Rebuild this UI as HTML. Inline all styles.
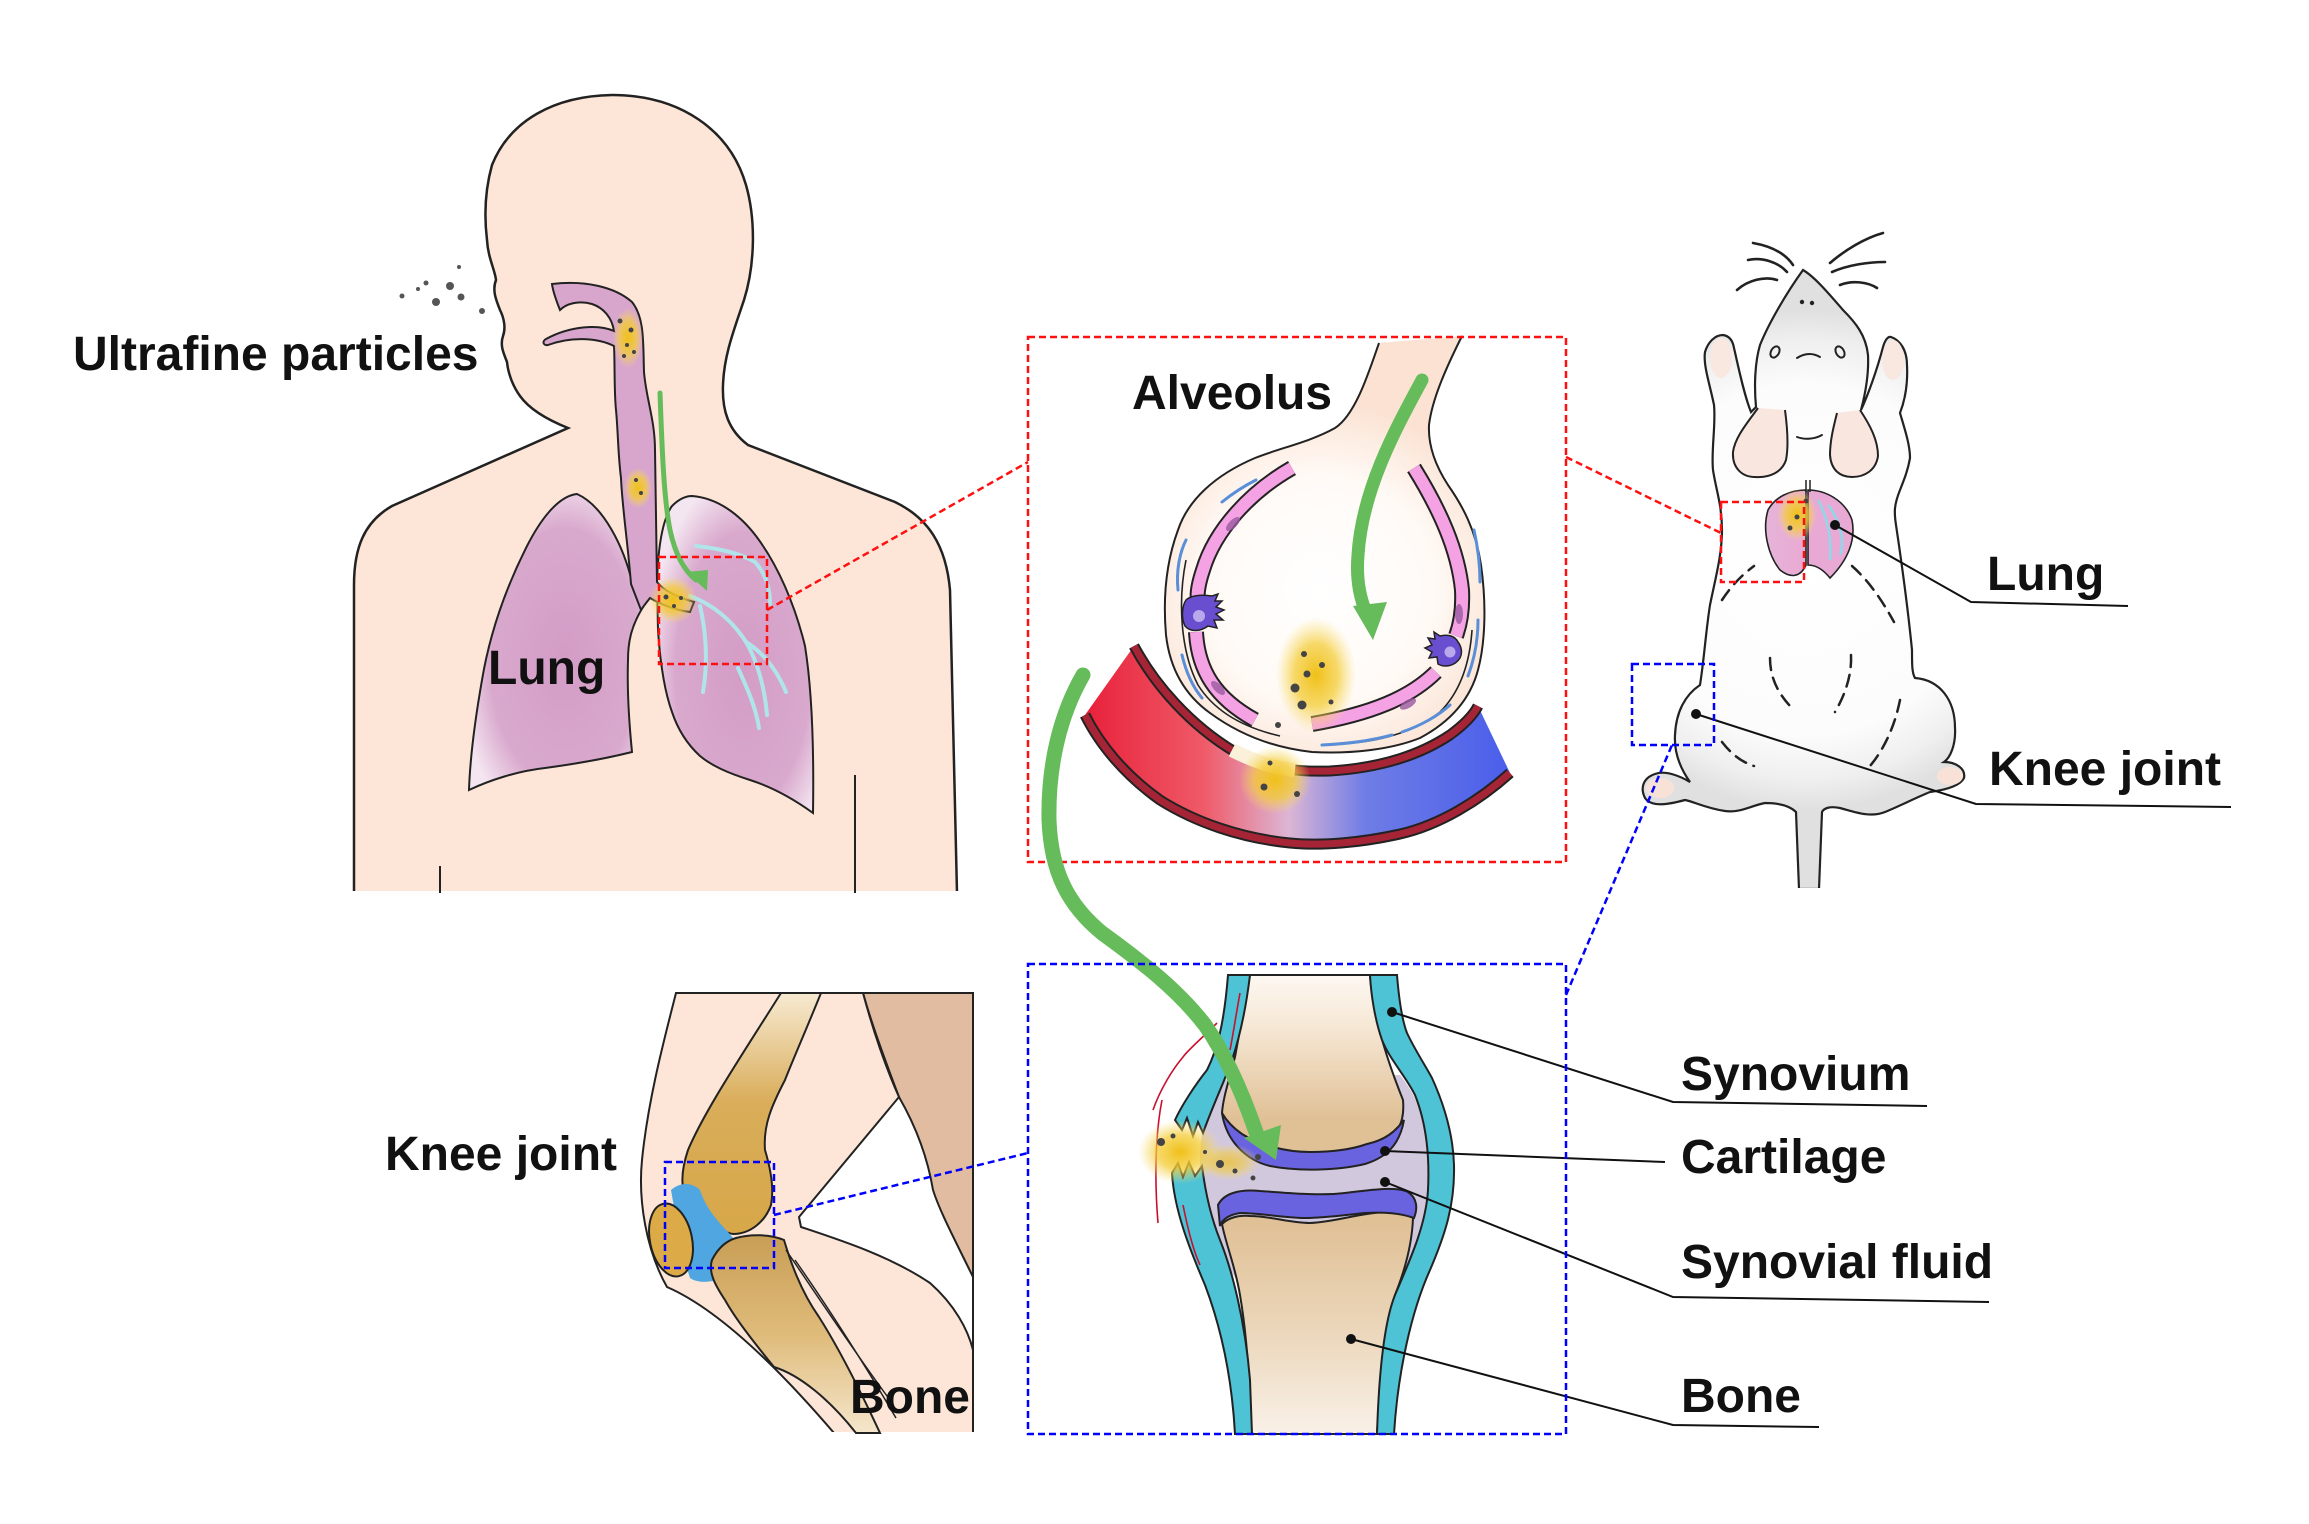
<!DOCTYPE html>
<html><head><meta charset="utf-8">
<style>
html,body{margin:0;padding:0;background:#fff;}
svg{display:block;}
text{font-family:"Liberation Sans",Arial,sans-serif;font-weight:bold;font-size:48px;fill:#111;}
</style></head><body>
<svg width="2309" height="1524" viewBox="0 0 2309 1524" xmlns="http://www.w3.org/2000/svg">
<defs>
 <radialGradient id="lungG" cx="0.55" cy="0.55" r="0.62">
  <stop offset="0" stop-color="#d39cc6"/>
  <stop offset="0.7" stop-color="#d9a9cd"/>
  <stop offset="1" stop-color="#f4e6f1"/>
 </radialGradient>
 <radialGradient id="yel">
  <stop offset="0" stop-color="#f0c018" stop-opacity="1"/>
  <stop offset="0.55" stop-color="#f4cd3a" stop-opacity="0.75"/>
  <stop offset="1" stop-color="#f8dc6a" stop-opacity="0"/>
 </radialGradient>
 <radialGradient id="alvG" cx="1320" cy="590" r="190" gradientUnits="userSpaceOnUse">
  <stop offset="0" stop-color="#ffffff"/>
  <stop offset="0.6" stop-color="#fffaf6"/>
  <stop offset="1" stop-color="#fbe2d2"/>
 </radialGradient>
 <linearGradient id="vesG" x1="1085" y1="0" x2="1509" y2="0" gradientUnits="userSpaceOnUse">
  <stop offset="0" stop-color="#e8213a"/>
  <stop offset="0.28" stop-color="#ef5a68"/>
  <stop offset="0.48" stop-color="#dcb6d4"/>
  <stop offset="0.66" stop-color="#6f7de6"/>
  <stop offset="1" stop-color="#4a5eea"/>
 </linearGradient>
 <linearGradient id="femG" x1="0" y1="974" x2="0" y2="1120" gradientUnits="userSpaceOnUse">
  <stop offset="0" stop-color="#fdf8f2"/>
  <stop offset="0.35" stop-color="#f6e8d6"/>
  <stop offset="1" stop-color="#e0c095"/>
 </linearGradient>
 <linearGradient id="tibG" x1="0" y1="1220" x2="0" y2="1434" gradientUnits="userSpaceOnUse">
  <stop offset="0" stop-color="#e0c095"/>
  <stop offset="0.55" stop-color="#ecd8bd"/>
  <stop offset="1" stop-color="#f9f1e8"/>
 </linearGradient>
 <linearGradient id="femKG" x1="0" y1="993" x2="0" y2="1235" gradientUnits="userSpaceOnUse">
  <stop offset="0" stop-color="#f7ead2"/>
  <stop offset="0.45" stop-color="#d9ad5a"/>
  <stop offset="1" stop-color="#d7a748"/>
 </linearGradient>
 <linearGradient id="tibKG" x1="0" y1="1235" x2="0" y2="1433" gradientUnits="userSpaceOnUse">
  <stop offset="0" stop-color="#c99e55"/>
  <stop offset="0.5" stop-color="#dfbb7a"/>
  <stop offset="1" stop-color="#f5e6cc"/>
 </linearGradient>
 <radialGradient id="ratG" cx="1805" cy="560" r="250" gradientUnits="userSpaceOnUse">
  <stop offset="0" stop-color="#ffffff"/>
  <stop offset="0.7" stop-color="#fcfcfc"/>
  <stop offset="0.88" stop-color="#efefef"/>
  <stop offset="1" stop-color="#e0e0e0"/>
 </radialGradient>
 <linearGradient id="ratLungG" x1="0" y1="0" x2="1" y2="0">
  <stop offset="0" stop-color="#e6b4d8"/>
  <stop offset="1" stop-color="#e9a9d4"/>
 </linearGradient>
</defs>

<!-- ============ HUMAN ============ -->
<path d="M354 893 L354 585 C354 548 364 522 392 506 L568 428 C548 420 530 410 520 396 C512 385 508 372 507 362 C503 352 500 345 503 336 C506 328 504 318 500 310 C496 300 492 290 496 280 C495 270 488 258 487 240 C484 215 485 190 492 165 C510 120 555 96 612 95 C680 95 730 130 746 185 C756 220 755 265 744 300 C734 330 724 355 723 385 C722 410 728 430 748 445 L895 502 C928 518 946 545 950 590 L957 893 Z" fill="#fde6d7" stroke="#222" stroke-width="2.5"/>
<rect x="340" y="891" width="630" height="14" fill="#fff"/>
<path d="M440 866 L440 893" stroke="#222" stroke-width="2"/>
<path d="M855 775 L855 893" stroke="#222" stroke-width="2"/>

<!-- lungs -->
<path d="M577 494 C558 496 540 520 526 548 C506 588 490 632 482 680 C475 720 470 760 469 790 C490 780 518 771 545 768 C575 764 608 758 632 752 C629 722 627 690 628 660 C628 640 632 625 643 607 L632 582 C624 548 604 506 577 494 Z" fill="url(#lungG)" stroke="#222" stroke-width="2"/>
<path d="M692 496 C718 498 740 515 756 536 C778 565 795 605 805 646 C812 690 814 750 813 813 C795 800 775 788 750 780 C728 773 712 766 700 756 C688 745 678 730 672 712 C664 690 660 660 658 630 L657 582 C658 550 662 520 672 506 C678 500 685 496 692 496 Z" fill="url(#lungG)" stroke="#222" stroke-width="2"/>
<!-- trachea -->
<path d="M552 284 C585 280 615 287 632 302 C645 318 643 345 644 372 C646 398 655 420 655 450 L657 582 C665 592 680 598 694 602 L690 612 C675 610 660 604 650 598 C646 603 643 607 641 610 L631 584 C628 545 622 505 621 478 C618 455 618 430 616 410 C614 390 615 365 614 346 C598 338 572 336 548 345 C543 346 542 341 546 339 C570 326 598 324 614 331 C612 318 604 308 592 304 C578 300 566 304 560 310 C556 300 553 292 552 284 Z" fill="#d8a6cc" stroke="#222" stroke-width="2"/>
<!-- bronchial tree -->
<g stroke="#aee8ec" stroke-width="4" fill="none" stroke-linecap="round" opacity="0.95">
 <path d="M690 596 C712 604 732 620 746 642 C758 662 765 690 767 715"/>
 <path d="M700 606 C706 632 708 662 703 692"/>
 <path d="M746 642 C762 652 776 668 786 692"/>
 <path d="M696 546 C716 548 740 553 755 562 C766 574 770 588 770 604"/>
 <path d="M738 668 C748 690 756 708 759 728"/>
</g>
<!-- particles in airway -->
<ellipse cx="628" cy="338" rx="15" ry="30" fill="url(#yel)"/>
<ellipse cx="638" cy="488" rx="14" ry="20" fill="url(#yel)"/>
<circle cx="673" cy="600" r="24" fill="url(#yel)"/>
<g fill="#444">
 <circle cx="620" cy="321" r="2.5"/><circle cx="631" cy="330" r="2.5"/><circle cx="627" cy="345" r="2"/><circle cx="624" cy="356" r="2"/><circle cx="634" cy="352" r="2"/>
 <circle cx="636" cy="480" r="2"/><circle cx="641" cy="493" r="2"/>
 <circle cx="666" cy="597" r="2.5"/><circle cx="674" cy="606" r="2"/><circle cx="681" cy="598" r="2"/>
</g>
<!-- inhaled particles -->
<g fill="#555">
 <circle cx="402" cy="296" r="2.5"/><circle cx="418" cy="289" r="2"/><circle cx="426" cy="283" r="2.5"/><circle cx="450" cy="286" r="4"/><circle cx="459" cy="267" r="2"/><circle cx="461" cy="297" r="3.5"/><circle cx="436" cy="302" r="4"/><circle cx="482" cy="311" r="3"/>
</g>
<!-- green arrow -->
<path d="M660 393 C662 450 664 500 670 530 C676 558 686 572 696 580" stroke="#66bb5a" stroke-width="5" fill="none" stroke-linecap="round"/>
<polygon points="686,572 708,570 707,591" fill="#66bb5a"/>
<rect x="659" y="557" width="108" height="107" fill="none" stroke="#ff1010" stroke-width="2.5" stroke-dasharray="7 4"/>
<text x="73" y="370">Ultrafine particles</text>
<text x="488" y="684">Lung</text>

<!-- ============ ALVEOLUS ============ -->
<path d="M1379 343 C1368 375 1355 415 1335 428 C1310 442 1280 448 1255 458 C1215 475 1188 500 1178 530 C1165 565 1163 600 1166 635 C1170 670 1185 695 1210 713 C1240 735 1275 748 1312 752 C1350 754 1390 750 1420 738 C1450 722 1470 700 1478 670 C1486 640 1486 600 1481 565 C1476 530 1462 505 1448 485 C1435 465 1428 445 1429 425 C1432 400 1445 370 1462 336 Z" fill="url(#alvG)" stroke="none"/>
<path d="M1379 343 C1368 375 1355 415 1335 428 C1310 442 1280 448 1255 458 C1215 475 1188 500 1178 530 C1165 565 1163 600 1166 635 C1170 670 1185 695 1210 713 C1240 735 1275 748 1312 752 C1350 754 1390 750 1420 738 C1450 722 1470 700 1478 670 C1486 640 1486 600 1481 565 C1476 530 1462 505 1448 485 C1435 465 1428 445 1429 425 C1432 400 1445 370 1462 336" fill="none" stroke="#222" stroke-width="2"/>
<path d="M1186 560 C1178 600 1180 650 1198 685 C1215 712 1245 728 1280 736" fill="none" stroke="#222" stroke-width="1.6"/>
<path d="M1330 744 C1370 744 1410 735 1440 712 C1462 690 1470 660 1472 630" fill="none" stroke="#222" stroke-width="1.6"/>
<g stroke="#5a8fd8" stroke-width="3" fill="none" stroke-linecap="round">
 <path d="M1222 502 C1232 494 1244 486 1256 480"/>
 <path d="M1178 590 C1176 570 1180 552 1186 540"/>
 <path d="M1182 655 C1186 672 1192 686 1202 698"/>
 <path d="M1474 530 C1478 548 1480 566 1480 582"/>
 <path d="M1478 620 C1478 640 1474 660 1468 676"/>
 <path d="M1450 705 C1438 716 1420 726 1402 732"/>
 <path d="M1322 745 C1345 744 1370 741 1392 735"/>
</g>
<g fill="none" stroke-linecap="butt">
 <path d="M1292 468 C1250 492 1215 530 1203 570 C1198 585 1197 595 1198 600" stroke="#222" stroke-width="16"/>
 <path d="M1292 468 C1250 492 1215 530 1203 570 C1198 585 1197 595 1198 600" stroke="#f5a2e4" stroke-width="12"/>
 <path d="M1196 632 C1198 670 1215 698 1255 720" stroke="#222" stroke-width="16"/>
 <path d="M1196 632 C1198 670 1215 698 1255 720" stroke="#f5a2e4" stroke-width="12"/>
 <path d="M1414 468 C1440 510 1458 550 1462 590 C1463 610 1460 625 1456 636" stroke="#222" stroke-width="16"/>
 <path d="M1414 468 C1440 510 1458 550 1462 590 C1463 610 1460 625 1456 636" stroke="#f5a2e4" stroke-width="12"/>
 <path d="M1436 672 C1410 698 1370 714 1312 724" stroke="#222" stroke-width="16"/>
 <path d="M1436 672 C1410 698 1370 714 1312 724" stroke="#f5a2e4" stroke-width="12"/>
</g>
<g fill="#9a5aa0" opacity="0.8">
 <ellipse cx="1233" cy="524" rx="4" ry="9" transform="rotate(45 1233 524)"/>
 <ellipse cx="1459" cy="614" rx="4" ry="10"/>
 <ellipse cx="1218" cy="688" rx="4" ry="9" transform="rotate(-45 1218 688)"/>
 <ellipse cx="1408" cy="704" rx="4" ry="9" transform="rotate(60 1408 704)"/>
</g>
<path d="M1186 600 C1190 596 1200 594 1212 596 L1218 594 L1215 601 L1222 601 L1216 607 L1224 610 L1216 614 L1223 620 L1214 620 L1217 628 L1208 626 C1200 632 1190 632 1185 626 C1181 618 1182 606 1186 600 Z" fill="#6a4ed0" stroke="#222" stroke-width="1.5"/>
<circle cx="1199" cy="616" r="6" fill="#b9a8ec"/>
<path d="M1458 642 C1455 636 1448 634 1440 636 L1434 632 L1435 639 L1428 638 L1432 645 L1425 648 L1432 652 L1429 658 L1437 657 L1438 664 C1445 668 1455 666 1460 658 C1463 652 1461 646 1458 642 Z" fill="#6a4ed0" stroke="#222" stroke-width="1.5"/>
<circle cx="1450" cy="652" r="5.5" fill="#b9a8ec"/>
<!-- vessel -->
<path d="M1134 646 C1155 685 1190 725 1235 752 C1270 770 1300 772 1330 771 C1380 768 1420 755 1450 735 C1465 724 1474 714 1478 706 L1510 773 C1480 800 1440 825 1400 834 C1360 843 1320 846 1290 843 C1240 838 1195 822 1160 800 C1125 775 1100 745 1085 715 Z" fill="url(#vesG)"/>
<path d="M1134 646 C1155 685 1190 725 1235 752 C1270 770 1300 772 1330 771 C1380 768 1420 755 1450 735 C1465 724 1474 714 1478 706" fill="none" stroke="#222" stroke-width="11"/>
<path d="M1134 646 C1155 685 1190 725 1235 752 C1270 770 1300 772 1330 771 C1380 768 1420 755 1450 735 C1465 724 1474 714 1478 706" fill="none" stroke="#a52537" stroke-width="7"/>
<path d="M1510 773 C1480 800 1440 825 1400 834 C1360 843 1320 846 1290 843 C1240 838 1195 822 1160 800 C1125 775 1100 745 1085 715" fill="none" stroke="#222" stroke-width="11"/>
<path d="M1510 773 C1480 800 1440 825 1400 834 C1360 843 1320 846 1290 843 C1240 838 1195 822 1160 800 C1125 775 1100 745 1085 715" fill="none" stroke="#a52537" stroke-width="7"/>
<path d="M1232 750 C1255 762 1275 768 1295 770" fill="none" stroke="#fbf0d8" stroke-width="14"/>
<ellipse cx="1316" cy="675" rx="40" ry="58" fill="url(#yel)"/>
<ellipse cx="1275" cy="780" rx="36" ry="34" fill="url(#yel)"/>
<g fill="#444">
 <circle cx="1304" cy="654" r="3"/><circle cx="1322" cy="665" r="3"/><circle cx="1307" cy="674" r="3.5"/><circle cx="1295" cy="688" r="4.5"/><circle cx="1302" cy="705" r="4.5"/><circle cx="1331" cy="702" r="2.5"/><circle cx="1278" cy="725" r="3"/><circle cx="1270" cy="763" r="2.5"/><circle cx="1264" cy="787" r="3.5"/><circle cx="1297" cy="794" r="3"/>
</g>
<path d="M1422 380 C1395 430 1362 490 1358 555 C1356 580 1360 598 1366 612" stroke="#66bb5a" stroke-width="13" fill="none" stroke-linecap="round"/>
<polygon points="1353,606 1387,602 1373,640" fill="#66bb5a"/>
<rect x="1028" y="337" width="538" height="525" fill="none" stroke="#ff1010" stroke-width="2.5" stroke-dasharray="7 4"/>
<text x="1132" y="409">Alveolus</text>

<!-- ============ BIG KNEE ============ -->
<path d="M1215 1080 C1200 1120 1195 1170 1205 1220 C1215 1250 1230 1270 1245 1292 L1400 1292 C1415 1260 1428 1220 1430 1180 C1430 1130 1420 1100 1400 1075 Z" fill="#d2c8dd"/>
<path d="M1250 975 C1245 1000 1240 1030 1235 1057 C1229 1080 1223 1098 1222 1113 C1230 1135 1245 1150 1268 1155 C1290 1158 1310 1157 1325 1156 C1350 1154 1375 1148 1393 1135 C1403 1125 1404 1112 1403 1100 C1395 1080 1388 1060 1383 1043 C1377 1020 1371 995 1370 975 Z" fill="url(#femG)" stroke="#222" stroke-width="2"/>
<path d="M1222 1113 C1226 1140 1245 1160 1270 1166 C1300 1172 1340 1170 1365 1164 C1388 1157 1400 1143 1404 1120 C1395 1132 1385 1140 1367 1144 C1350 1150 1330 1152 1310 1152 C1285 1152 1260 1145 1242 1134 C1232 1127 1226 1120 1222 1113 Z" fill="#6a63e0" stroke="#222" stroke-width="2"/>
<path d="M1222 1224 C1228 1218 1238 1215 1250 1216 C1270 1216 1290 1223 1310 1223 C1335 1222 1360 1213 1385 1212 C1400 1212 1410 1214 1413 1218 C1412 1245 1405 1270 1395 1295 C1385 1330 1380 1380 1377 1434 L1251 1434 C1250 1380 1246 1330 1240 1295 C1235 1265 1226 1245 1222 1224 Z" fill="url(#tibG)" stroke="#222" stroke-width="2"/>
<path d="M1218 1205 C1224 1193 1240 1189 1260 1191 C1290 1193 1320 1196 1345 1193 C1370 1190 1395 1186 1408 1192 C1417 1198 1418 1208 1414 1218 C1400 1213 1385 1212 1365 1213 C1345 1215 1325 1218 1305 1218 C1285 1218 1260 1213 1240 1213 C1228 1215 1222 1220 1220 1226 Z" fill="#6a63e0" stroke="#222" stroke-width="2"/>
<!-- synovium -->
<path d="M1228 975 L1250 975 C1247 1000 1242 1030 1232 1060 C1225 1080 1213 1105 1203 1133 L1198 1122 L1193 1136 L1187 1118 L1182 1130 L1175 1120 C1182 1105 1195 1085 1207 1070 C1217 1050 1224 1025 1228 975 Z" fill="#4ec3d5" stroke="#222" stroke-width="2"/>
<path d="M1172 1173 L1178 1163 L1183 1177 L1189 1162 L1195 1176 L1202 1166 C1205 1190 1210 1215 1220 1240 C1232 1270 1245 1320 1250 1380 L1252 1434 L1235 1434 C1232 1380 1222 1330 1205 1285 C1190 1250 1174 1210 1172 1173 Z" fill="#4ec3d5" stroke="#222" stroke-width="2"/>
<path d="M1370 975 L1397 975 C1399 1000 1402 1020 1407 1033 C1415 1050 1425 1065 1432 1078 C1442 1100 1453 1130 1454 1165 C1455 1205 1445 1235 1430 1270 C1412 1310 1398 1370 1394 1434 L1377 1434 C1379 1370 1385 1320 1395 1295 C1410 1260 1426 1225 1428 1190 C1430 1150 1425 1120 1415 1095 C1405 1075 1390 1060 1382 1040 C1375 1020 1371 995 1370 975 Z" fill="#4ec3d5" stroke="#222" stroke-width="2"/>
<g stroke="#c8102e" stroke-width="1.6" fill="none">
 <path d="M1240 993 C1236 1015 1233 1035 1230 1050"/>
 <path d="M1217 1023 C1200 1040 1188 1050 1183 1057 C1172 1070 1160 1090 1153 1110"/>
 <path d="M1162 1100 C1156 1130 1154 1175 1158 1223"/>
 <path d="M1183 1205 C1188 1230 1193 1250 1200 1265"/>
</g>
<ellipse cx="1180" cy="1152" rx="42" ry="32" fill="url(#yel)"/>
<ellipse cx="1228" cy="1162" rx="32" ry="18" fill="url(#yel)" opacity="0.7"/>
<g fill="#444">
 <circle cx="1161" cy="1142" r="4"/><circle cx="1173" cy="1136" r="2.5"/><circle cx="1205" cy="1152" r="2"/><circle cx="1220" cy="1164" r="4"/><circle cx="1235" cy="1171" r="2.5"/><circle cx="1253" cy="1178" r="2.5"/><circle cx="1258" cy="1157" r="3"/>
</g>
<g stroke="#111" stroke-width="2" fill="none">
 <path d="M1392 1012 L1673 1102 L1927 1106"/>
 <path d="M1385 1151 L1665 1162"/>
 <path d="M1385 1182 L1673 1297 L1989 1302"/>
 <path d="M1351 1339 L1673 1425 L1819 1427"/>
</g>
<g fill="#111">
 <circle cx="1392" cy="1012" r="5"/><circle cx="1385" cy="1151" r="5"/><circle cx="1385" cy="1182" r="5"/><circle cx="1351" cy="1339" r="5"/>
</g>
<!-- big green arrow (on top of knee) -->
<path d="M1083 675 C1060 715 1048 765 1049 820 C1051 872 1068 905 1102 933 C1142 962 1178 990 1205 1025 C1226 1055 1242 1092 1256 1132" stroke="#66bb5a" stroke-width="15" fill="none" stroke-linecap="round"/>
<polygon points="1244,1138 1281,1125 1276,1160" fill="#66bb5a"/>
<rect x="1028" y="964" width="538" height="470" fill="none" stroke="#0000ff" stroke-width="2.5" stroke-dasharray="7 4"/>
<text x="1681" y="1090">Synovium</text>
<text x="1681" y="1173">Cartilage</text>
<text x="1681" y="1278">Synovial fluid</text>
<text x="1681" y="1412">Bone</text>

<!-- ============ LEFT KNEE ============ -->
<path d="M863 993 L973 993 L973 1277 C955 1240 940 1212 933 1190 C928 1160 918 1130 899 1097 C885 1060 872 1025 863 993 Z" fill="#e2bca0" stroke="#222" stroke-width="2"/>
<path d="M676 993 L863 993 C873 1030 886 1068 899 1097 L799 1217 L801 1227 C840 1240 890 1256 930 1283 C955 1305 968 1330 973 1350 L973 1433 L834 1433 C780 1370 720 1310 667 1287 C646 1250 638 1200 642 1160 C648 1100 664 1040 676 993 Z" fill="#fde6d7" stroke="#222" stroke-width="2"/>
<rect x="660" y="1432" width="320" height="10" fill="#fff"/>
<path d="M973 1277 L973 1350" stroke="#222" stroke-width="2"/>
<path d="M781 993 L821 993 C806 1030 792 1062 785 1080 C772 1105 763 1125 765 1150 C771 1170 774 1190 771 1205 C765 1222 750 1234 733 1234 C720 1232 712 1222 705 1216 C695 1212 688 1205 686 1198 C680 1185 682 1168 688 1150 C705 1110 742 1055 781 993 Z" fill="url(#femKG)" stroke="#222" stroke-width="2"/>
<path d="M671 1190 C680 1182 692 1182 700 1190 C705 1205 712 1215 728 1232 C740 1245 745 1258 735 1272 C720 1282 700 1285 690 1278 C684 1260 678 1230 671 1190 Z" fill="#4fa6e0"/>
<ellipse cx="671" cy="1240" rx="21" ry="37" transform="rotate(-12 671 1240)" fill="#dcaa46" stroke="#222" stroke-width="2"/>
<path d="M736 1238 C750 1234 770 1234 784 1240 C790 1260 800 1290 819 1317 C840 1350 860 1390 880 1433 L856 1433 C830 1400 800 1375 774 1367 C752 1340 735 1318 725 1300 C715 1285 708 1272 712 1260 C718 1248 726 1241 736 1238 Z" fill="url(#tibKG)" stroke="#222" stroke-width="2"/>
<g stroke="#222" stroke-width="1.5" fill="none">
 <path d="M786 1250 C820 1300 860 1360 890 1400"/>
 <path d="M795 1260 C830 1310 868 1370 896 1418"/>
</g>
<rect x="665" y="1162" width="109" height="106" fill="none" stroke="#0000ff" stroke-width="2.5" stroke-dasharray="7 4"/>
<text x="385" y="1170">Knee joint</text>
<text x="850" y="1413">Bone</text>

<!-- ============ RAT ============ -->
<path d="M1723 335 C1730 336 1733 342 1734 348 C1738 365 1744 395 1751 412 L1756 407 C1754 385 1755 362 1760 345 C1768 325 1785 295 1803 270 C1815 277 1830 295 1843 310 C1855 322 1866 335 1868 355 C1869 375 1865 395 1861 410 C1868 395 1877 370 1883 347 C1885 340 1888 336 1891 337 C1900 340 1907 350 1907 365 C1908 385 1905 400 1900 413 C1905 430 1910 445 1910 458 C1908 470 1904 480 1900 490 C1894 505 1894 512 1896 525 C1902 565 1908 610 1912 650 C1912 665 1912 673 1915 678 C1940 680 1955 700 1955 728 C1956 745 1950 758 1944 762 C1955 762 1966 768 1964 778 C1960 786 1945 790 1930 792 C1915 798 1900 806 1885 812 C1870 818 1855 812 1840 808 C1830 806 1824 808 1822 812 L1819 889 L1799 889 L1796 812 C1790 806 1780 803 1765 803 C1750 806 1740 813 1725 811 C1705 808 1695 802 1685 800 C1670 804 1652 808 1645 798 C1640 788 1643 778 1655 774 C1665 770 1680 776 1690 782 C1680 768 1674 752 1675 735 C1676 712 1685 695 1700 685 C1704 660 1706 630 1710 605 C1715 580 1722 555 1722 530 C1722 505 1716 490 1713 470 C1711 450 1716 425 1714 405 C1710 385 1703 365 1705 352 C1708 342 1715 335 1723 335 Z" fill="url(#ratG)" stroke="#222" stroke-width="2.2"/>
<rect x="1780" y="888" width="50" height="10" fill="#fff"/>
<ellipse cx="1660" cy="788" rx="14" ry="10" fill="#f8e2d8"/>
<ellipse cx="1950" cy="776" rx="13" ry="9" fill="#f8e2d8"/>
<ellipse cx="1721" cy="358" rx="11" ry="20" fill="#f9e8e0"/>
<ellipse cx="1893" cy="360" rx="11" ry="20" fill="#f9e8e0"/>
<path d="M1758 408 C1748 422 1735 437 1733 452 C1732 468 1742 477 1755 477 C1770 478 1782 472 1786 460 C1789 445 1787 425 1785 410" fill="#f9e6de" stroke="#222" stroke-width="2"/>
<path d="M1837 413 C1834 425 1830 440 1830 455 C1831 470 1840 477 1852 477 C1865 477 1876 470 1878 456 C1878 440 1870 425 1860 410" fill="#f9e6de" stroke="#222" stroke-width="2"/>
<g stroke="#222" stroke-width="2" fill="none" stroke-linecap="round">
 <ellipse cx="1775" cy="352" rx="4" ry="6" transform="rotate(30 1775 352)"/>
 <ellipse cx="1840" cy="352" rx="4" ry="6" transform="rotate(-30 1840 352)"/>
 <path d="M1797 358 C1805 353 1813 353 1820 357"/>
 <path d="M1797 437 C1805 440 1815 439 1822 435"/>
</g>
<g stroke="#222" stroke-width="2.6" fill="none" stroke-linecap="round">
 <path d="M1753 243 C1770 246 1785 253 1793 265"/>
 <path d="M1748 260 C1762 257 1778 262 1787 272"/>
 <path d="M1737 290 C1748 280 1765 276 1777 280"/>
 <path d="M1830 263 C1845 250 1865 238 1883 233"/>
 <path d="M1832 272 C1848 265 1868 262 1885 262"/>
 <path d="M1840 285 C1852 280 1868 282 1877 288"/>
</g>
<circle cx="1802" cy="302" r="2.2" fill="#222"/><circle cx="1812" cy="303" r="2.2" fill="#222"/>
<g stroke="#222" stroke-width="2.5" fill="none" stroke-dasharray="12 8" stroke-linecap="round">
 <path d="M1722 600 C1732 585 1742 575 1754 566"/>
 <path d="M1852 566 C1868 580 1882 600 1894 622"/>
 <path d="M1770 658 C1770 680 1780 695 1790 706"/>
 <path d="M1851 655 C1852 675 1845 695 1835 712"/>
 <path d="M1900 700 C1895 725 1885 748 1870 766"/>
 <path d="M1722 742 C1732 755 1742 762 1754 766"/>
</g>
<path d="M1806 490 C1790 490 1775 497 1768 510 C1762 530 1768 555 1780 570 C1790 578 1800 578 1806 565 Z" fill="url(#ratLungG)" stroke="#222" stroke-width="1.6"/>
<path d="M1808 490 C1825 490 1845 500 1852 520 C1856 540 1848 560 1830 578 C1822 568 1814 565 1808 565 Z" fill="#e8a9d4" stroke="#222" stroke-width="1.6"/>
<path d="M1806 480 L1806 492 M1810 480 L1810 492" stroke="#222" stroke-width="1.5"/>
<g stroke="#8fd8e8" stroke-width="2.5" fill="none">
 <path d="M1818 500 C1826 515 1832 535 1830 560"/>
 <path d="M1828 505 C1840 520 1845 540 1840 555"/>
</g>
<ellipse cx="1797" cy="515" rx="20" ry="26" fill="url(#yel)"/>
<g fill="#444"><circle cx="1806" cy="501" r="2.5"/><circle cx="1797" cy="517" r="2.5"/><circle cx="1790" cy="528" r="2.5"/></g>
<g stroke="#111" stroke-width="2" fill="none">
 <path d="M1835 525 L1971 602 L2128 606"/>
 <path d="M1696 714 L1976 804 L2231 807"/>
</g>
<circle cx="1835" cy="525" r="5" fill="#111"/>
<circle cx="1696" cy="714" r="5" fill="#111"/>
<rect x="1721" y="502" width="83" height="80" fill="none" stroke="#ff1010" stroke-width="2.5" stroke-dasharray="7 4"/>
<rect x="1632" y="664" width="82" height="81" fill="none" stroke="#0000ff" stroke-width="2.5" stroke-dasharray="7 4"/>
<text x="1987" y="590">Lung</text>
<text x="1989" y="785">Knee joint</text>

<!-- connectors -->
<path d="M767 610 L1028 462" stroke="#ff1010" stroke-width="2.5" stroke-dasharray="7 4" fill="none"/>
<path d="M1566 457 L1721 533" stroke="#ff1010" stroke-width="2.5" stroke-dasharray="7 4" fill="none"/>
<path d="M774 1215 L1028 1153" stroke="#0000ff" stroke-width="2.5" stroke-dasharray="7 4" fill="none"/>
<path d="M1566 995 L1672 745" stroke="#0000ff" stroke-width="2.5" stroke-dasharray="7 4" fill="none"/>
</svg>
</body></html>
